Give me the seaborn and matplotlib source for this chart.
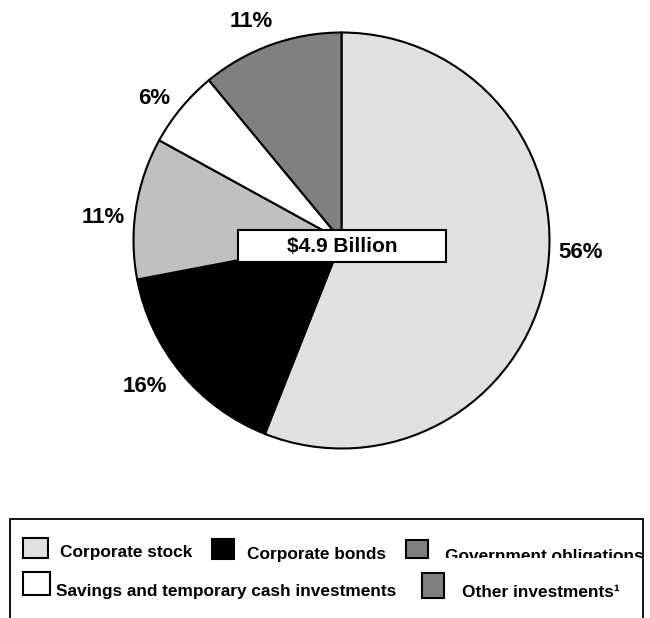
import matplotlib
matplotlib.use("Agg")
import matplotlib.pyplot as plt
from matplotlib.patches import Rectangle
import numpy as np
import seaborn as sns

# Portfolio composition
categories = [
    "Corporate stock",
    "Corporate bonds",
    "Government obligations",
    "Savings and temporary cash investments",
    "Other investments\u00b9",
]
shares = [56, 16, 11, 6, 11]
pct_labels = [f"{v}%" for v in shares]
total_label = "$4.9 Billion"

wedge_colors = ["#e0e0e0", "#000000", "#c0c0c0", "#ffffff", "#808080"]
swatch_colors = ["#e0e0e0", "#000000", "#808080", "#ffffff", "#808080"]

sns.set_theme(style="white")
plt.rcParams["font.family"] = ["Liberation Sans", "DejaVu Sans"]

W, H = 650, 618
fig = plt.figure(figsize=(W / 100, H / 100), dpi=100)
ax = fig.add_axes([0, 0, 1, 1])

# Pie geometry in pixel units (y measured upward)
cx, cy, R = 341.5, H - 240.5, 208
wedges, _ = ax.pie(
    shares, colors=wedge_colors, startangle=90, counterclock=False,
    center=(cx, cy), radius=R,
    wedgeprops=dict(edgecolor="black", linewidth=1.5),
)
ax.set_xlim(0, W)
ax.set_ylim(0, H)
ax.set_aspect("equal")
ax.axis("off")

# Percentage labels around the pie
label_angle_shift = [8, -3, 3.5, 2.5, 2.7]
label_radius = [1.15, 1.18, 1.15, 1.13, 1.14]
for w, txt, da, rf in zip(wedges, pct_labels, label_angle_shift, label_radius):
    mid = np.deg2rad((w.theta1 + w.theta2) / 2 + da)
    ax.text(cx + rf * R * np.cos(mid), cy + rf * R * np.sin(mid), txt,
            ha="center", va="center", fontsize=16, fontweight="bold",
            color="black")

# Total amount box over the centre
box_w, box_h = 208, 32
ax.add_patch(Rectangle((cx + 0.5 - box_w / 2, H - 262), box_w, box_h,
                       facecolor="white", edgecolor="black", linewidth=1.5,
                       zorder=5))
ax.text(cx + 0.5, H - 246, total_label, ha="center", va="center",
        fontsize=15, fontweight="bold", color="black", zorder=6)

# Legend box
ax.add_patch(Rectangle((10, H - 640), 633, 121, facecolor="none",
                       edgecolor="black", linewidth=1.3, zorder=4))

# swatch: (left, right, top, bottom) in px from top; text: (x, baseline)
swatch_boxes = [(23, 48, 538, 558), (212, 234, 539, 559), (406, 428, 540, 558),
                (23, 50, 572, 595), (422, 444, 573, 598)]
text_anchor = [(60, 557), (247, 559), (445, 561), (56, 596), (462, 597)]

for name, col, (x0, x1, t, b), (tx, ty) in zip(categories, swatch_colors,
                                               swatch_boxes, text_anchor):
    ax.add_patch(Rectangle((x0, H - b), x1 - x0, b - t, facecolor=col,
                           edgecolor="black", linewidth=1.5, zorder=5))
    t_art = ax.text(tx, H - ty, name, ha="left", va="baseline", fontsize=12.4,
                    fontweight="bold", color="black", zorder=6, clip_on=True)
    if name == "Government obligations":
        clip = Rectangle((0, H - 557.5), W, 60, transform=ax.transData)
        t_art.set_clip_path(clip)

fig.savefig("out.png", dpi=100, facecolor="white")
